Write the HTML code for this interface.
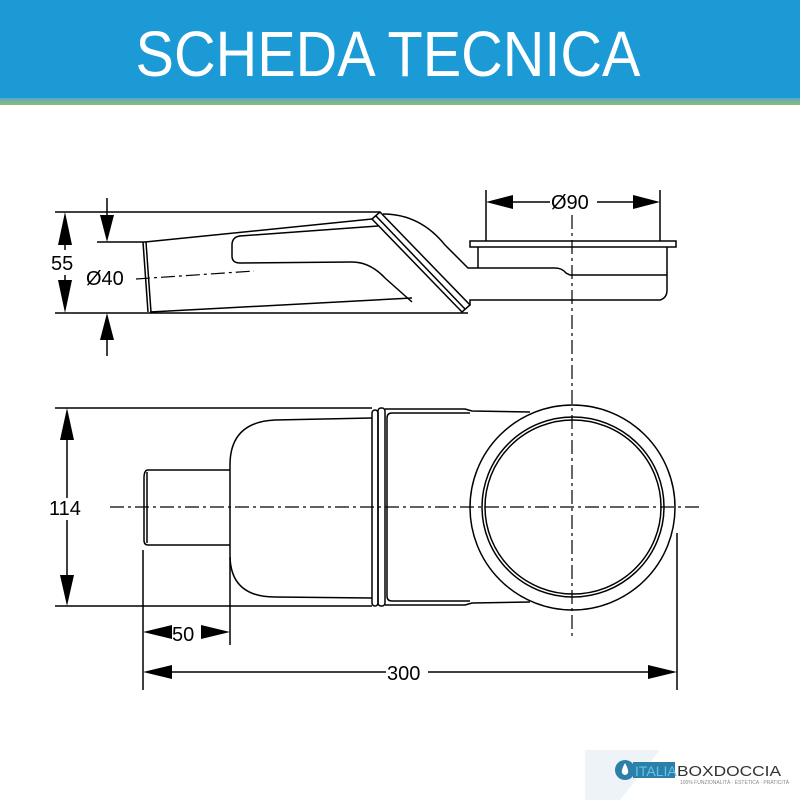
<!DOCTYPE html>
<html><head><meta charset="utf-8"><style>
html,body{margin:0;padding:0;background:#fff;width:800px;height:800px;overflow:hidden}
</style></head><body>
<svg width="800" height="800" viewBox="0 0 800 800" xmlns="http://www.w3.org/2000/svg" font-family="Liberation Sans, sans-serif">
<defs>
<linearGradient id="g" x1="0" y1="0" x2="0" y2="1"><stop offset="0" stop-color="#5aa8c8"/><stop offset="1" stop-color="#8cc070"/></linearGradient>
</defs>
<rect x="0" y="0" width="800" height="100" fill="#1b9ad6"/>
<rect x="0" y="98" width="800" height="7" fill="url(#g)"/>
<text x="388" y="76" text-anchor="middle" font-size="64" fill="#fff" textLength="505" lengthAdjust="spacingAndGlyphs">SCHEDA TECNICA</text>

<g fill="none" stroke="#000" stroke-width="1.5">
<!-- top view -->
<line x1="55" y1="212" x2="380" y2="212"/>
<line x1="55" y1="313" x2="468" y2="313"/>
<line x1="97" y1="242" x2="145" y2="242"/>
<line x1="65" y1="245" x2="65" y2="250"/>
<line x1="65" y1="275" x2="65" y2="280"/>
<line x1="107" y1="198" x2="107" y2="215"/>
<line x1="107" y1="340" x2="107" y2="356"/>
<path d="M143 242 L148 312"/><path d="M146 242 L151 312"/>
<path d="M145 242 L372 219"/>
<path d="M150 312 L412 298"/>
<path d="M378 226 L240 236 Q232 237 232 245 L232 256 Q232 263 240 263 L352 262 Q370 262 385 278 L412 302"/>
<path d="M372 219 L380 212 L470 305 L462 312 Z"/>
<path d="M376 216 L465 309"/>
<path d="M383 214 Q420 214 445 245 L468 268 L555 268 Q562 268 566 273 L570 275 L667 275"/>
<path d="M470 305 L470 300 L660 300 Q667 298 667 290 L667 247"/>
<path d="M478 247 L478 268"/>
<path d="M470 241 L676 241 L676 247 L470 247 Z"/>
<line x1="486" y1="190" x2="486" y2="241"/>
<line x1="660" y1="190" x2="660" y2="241"/>
<line x1="510" y1="202" x2="550" y2="202"/>
<line x1="597" y1="202" x2="636" y2="202"/>
<!-- bottom view -->
<line x1="55" y1="408" x2="372" y2="408"/>
<line x1="55" y1="606" x2="372" y2="606"/>
<line x1="67" y1="440" x2="67" y2="498"/>
<line x1="67" y1="520" x2="67" y2="575"/>
<path d="M372 418 L275 420 Q230 422 230 465 L230 555 Q230 597 275 597 L372 598"/>
<path d="M230 470 L148 470 Q144 470 144 478 L144 540 Q144 545 148 545 L230 545"/>
<path d="M147 472 L147 543"/>
<rect x="372" y="410" width="6" height="196" rx="3"/>
<rect x="378" y="408" width="7" height="198" rx="3"/>
<path d="M385 409 L465 409 L472 411 L530 412"/>
<path d="M385 605 L465 605 L472 603 L530 602"/>
<path d="M470 413 L392 413 Q387 413 387 418 L387 596 Q387 601 392 601 L470 601"/>
<ellipse cx="572.5" cy="507.5" rx="102.5" ry="102.5" fill="#fff"/>
<ellipse cx="573" cy="507" rx="91" ry="90"/>
<ellipse cx="573" cy="507" rx="88" ry="87"/>
<line x1="143" y1="550" x2="143" y2="690"/>
<line x1="230" y1="557" x2="230" y2="645"/>
<line x1="677" y1="533" x2="677" y2="690"/>
<line x1="170" y1="672" x2="386" y2="672"/>
<line x1="428" y1="672" x2="650" y2="672"/>
</g>
<!-- centerlines -->
<g fill="none" stroke="#000" stroke-width="1.2" stroke-dasharray="14,4,3,4">
<line x1="136" y1="279" x2="254" y2="271"/>
<line x1="572" y1="215" x2="572" y2="640"/>
<line x1="110" y1="507" x2="700" y2="507"/>
</g>
<!-- arrowheads -->
<g fill="#000">
<polygon points="65,212 58,245 72,245"/>
<polygon points="65,313 58,280 72,280"/>
<polygon points="107,242 100,215 114,215"/>
<polygon points="107,313 100,340 114,340"/>
<polygon points="486,202 513,195 513,209"/>
<polygon points="660,202 633,195 633,209"/>
<polygon points="67,408 60,440 74,440"/>
<polygon points="67,606 60,575 74,575"/>
<polygon points="143,632 172,625 172,639"/>
<polygon points="230,632 201,625 201,639"/>
<polygon points="143,672 172,665 172,679"/>
<polygon points="677,672 648,665 648,679"/>
</g>
<g font-size="20" fill="#000">
<text x="51" y="270">55</text>
<text x="86" y="285">Ø40</text>
<text x="551" y="209">Ø90</text>
<text x="49" y="515">114</text>
<text x="172" y="641">50</text>
<text x="387" y="680">300</text>
</g>
<!-- logo -->
<polygon points="585,750 660,750 620,800 585,800" fill="#eef3f8"/>
<circle cx="625" cy="770" r="10" fill="#2d7fa8"/>
<path d="M625 763 Q629 770 628 773 Q625 777 622 773 Q621 770 625 763Z" fill="#fff"/>
<rect x="633" y="762" width="42" height="16" fill="#2d7fa8"/>
<text x="635" y="776" font-size="14" fill="#5cc6ee">ITALIA</text>
<text x="677" y="776" font-size="15" fill="#333" textLength="104" lengthAdjust="spacingAndGlyphs">BOXDOCCIA</text>
<text x="680" y="784" font-size="5" fill="#888">100% FUNZIONALITÀ · ESTETICA · PRATICITÀ</text>
</svg>
</body></html>
